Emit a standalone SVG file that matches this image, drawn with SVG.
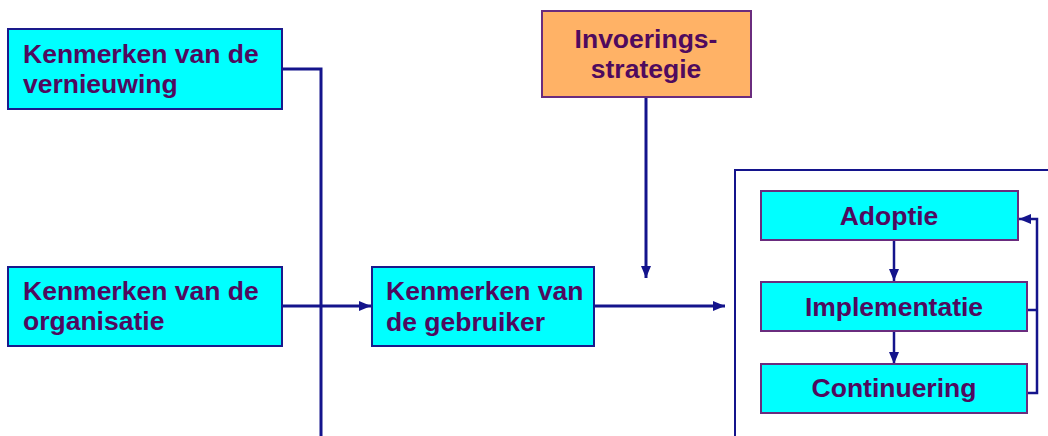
<svg xmlns="http://www.w3.org/2000/svg" width="1048" height="436" viewBox="0 0 1048 436">
<style>
.box{fill:#00FFFF;stroke:#1A1A8C;stroke-width:2}
.ibox{fill:#00FFFF;stroke:#6A2C7E;stroke-width:2}
.obox{fill:#FFB266;stroke:#6A2C7E;stroke-width:2}
.t{font-family:"Liberation Sans",Arial,sans-serif;font-weight:bold;font-size:26.5px;fill:#4F0A5E}
.c{text-anchor:middle}
.ln{fill:none;stroke:#14148C;stroke-width:3}
.ln2{fill:none;stroke:#14148C;stroke-width:2.5}
</style>
<defs>
<marker id="ah" viewBox="0 0 12 10" refX="12" refY="5" markerWidth="12" markerHeight="10" markerUnits="userSpaceOnUse" orient="auto">
<path d="M0,0 L12,5 L0,10 z" fill="#14148C"/>
</marker>
</defs>
<rect x="0" y="0" width="1048" height="436" fill="#FFFFFF"/>
<g id="connectors">
<path class="ln" d="M283,69 H321 V436"/>
<path class="ln" d="M283,306 H371" marker-end="url(#ah)"/>
<path class="ln" d="M595,306 H725" marker-end="url(#ah)"/>
<path class="ln" d="M646,97 V278" marker-end="url(#ah)"/>
<path class="ln2" d="M894,241 V281" marker-end="url(#ah)"/>
<path class="ln2" d="M894,331 V364" marker-end="url(#ah)"/>
<path class="ln2" d="M1028,310 H1037"/>
<path class="ln2" d="M1028,393 H1037 V219 H1019" marker-end="url(#ah)"/>
</g>
<g id="container">
<path d="M735,436 V170 H1048" fill="none" stroke="#14148C" stroke-width="2"/>
</g>
<g id="vernieuwing">
<rect class="box" x="8" y="29" width="274" height="80"/>
<text class="t" x="23" y="63">Kenmerken van de</text>
<text class="t" x="23" y="93">vernieuwing</text>
</g>
<g id="organisatie">
<rect class="box" x="8" y="267" width="274" height="79"/>
<text class="t" x="23" y="300">Kenmerken van de</text>
<text class="t" x="23" y="330">organisatie</text>
</g>
<g id="gebruiker">
<rect class="box" x="372" y="267" width="222" height="79"/>
<text class="t" x="386" y="300">Kenmerken van</text>
<text class="t" x="386" y="331">de gebruiker</text>
</g>
<g id="invoeringsstrategie">
<rect class="obox" x="542" y="11" width="209" height="86"/>
<text class="t c" x="646" y="48">Invoerings-</text>
<text class="t c" x="646" y="78">strategie</text>
</g>
<g id="adoptie">
<rect class="ibox" x="761" y="191" width="257" height="49"/>
<text class="t c" x="889" y="225">Adoptie</text>
</g>
<g id="implementatie">
<rect class="ibox" x="761" y="282" width="266" height="49"/>
<text class="t c" x="894" y="316">Implementatie</text>
</g>
<g id="continuering">
<rect class="ibox" x="761" y="364" width="266" height="49"/>
<text class="t c" x="894" y="397">Continuering</text>
</g>
</svg>
